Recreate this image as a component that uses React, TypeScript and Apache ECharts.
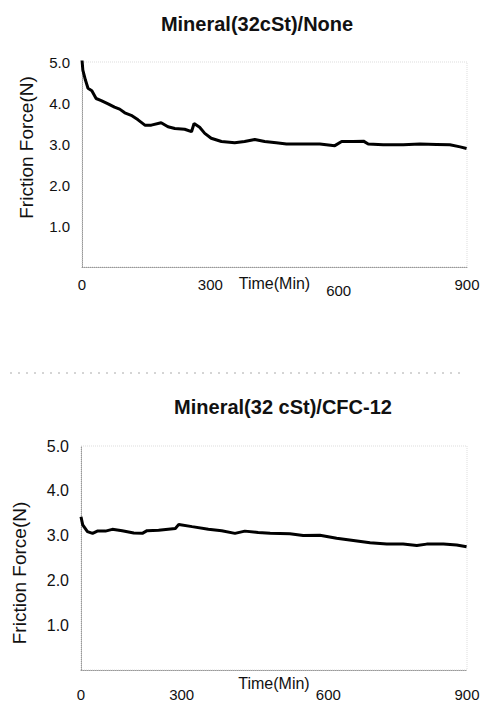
import React, { useEffect, useRef } from "react";
import * as echarts from "echarts";

const title1 = "Mineral(32cSt)/None";
const title2 = "Mineral(32 cSt)/CFC-12";
const yAxisName = "Friction Force(N)";
const xAxisName = "Time(Min)";
const xTicks = [0, 300, 600, 900];
const yTicks = [1, 2, 3, 4, 5];

const time1 = [0, 2, 8, 14, 23, 33, 45, 61, 76, 88, 100, 115, 131, 147, 162, 185, 201, 217, 240, 256, 262, 275, 287, 302, 326, 357, 380, 404, 427, 454, 478, 517, 556, 591, 607, 634, 658, 669, 704, 751, 790, 829, 860, 884, 899];
const force1 = [5.05, 4.8, 4.56, 4.36, 4.3, 4.11, 4.06, 3.98, 3.9, 3.85, 3.76, 3.7, 3.59, 3.46, 3.46, 3.52, 3.42, 3.38, 3.36, 3.3, 3.5, 3.41, 3.26, 3.14, 3.06, 3.03, 3.06, 3.11, 3.06, 3.03, 3.0, 3.0, 3.0, 2.96, 3.06, 3.06, 3.07, 3.0, 2.98, 2.98, 3.0, 2.99, 2.98, 2.93, 2.89];

const time2 = [0, 4, 15, 27, 38, 57, 73, 96, 123, 143, 154, 181, 220, 228, 259, 297, 328, 359, 382, 413, 441, 487, 518, 557, 596, 635, 674, 713, 751, 783, 806, 845, 876, 899];
const force2 = [3.42, 3.24, 3.09, 3.05, 3.1, 3.1, 3.14, 3.11, 3.06, 3.05, 3.11, 3.12, 3.16, 3.25, 3.2, 3.14, 3.11, 3.05, 3.1, 3.07, 3.05, 3.04, 3.0, 3.01, 2.94, 2.89, 2.84, 2.81, 2.81, 2.78, 2.81, 2.81, 2.79, 2.75];

const FONT = "'Liberation Sans', Arial, sans-serif";

export default function App() {
  const ref = useRef<HTMLDivElement>(null);
  useEffect(() => {
    if (!ref.current) return;
    const chart = echarts.init(ref.current, undefined, { renderer: "svg" });
    const yAxisBase = (gridIndex: number, gap: number, fs: number, pad: number[]) => ({
      type: "value",
      gridIndex,
      min: 0,
      max: 5,
      interval: 1,
      name: yAxisName,
      nameLocation: "middle",
      nameGap: gap,
      nameMoveOverlap: false,
      nameTextStyle: { fontFamily: FONT, fontSize: 19, color: "#111", padding: pad },
      axisLine: { show: true, lineStyle: { color: "#999", type: "dotted", width: 1 } },
      axisTick: { show: false },
      splitLine: { show: false },
      axisLabel: {
        margin: 12,
        fontFamily: FONT,
        fontSize: fs,
        color: "#111",
        formatter: (v: number) => (yTicks.includes(v) ? v.toFixed(1) : ""),
      },
    });
    const xAxisBase = (gridIndex: number, gap: number, margin: number, rich: any, fmt: (v: number) => string) => ({
      type: "value",
      gridIndex,
      min: 0,
      max: 900,
      interval: 300,
      name: xAxisName,
      nameLocation: "middle",
      nameGap: gap,
      nameMoveOverlap: false,
      nameTextStyle: { fontFamily: FONT, fontSize: 16, color: "#111" },
      axisLine: { show: true, lineStyle: { color: "#999", type: "dotted", width: 1 } },
      axisTick: { show: false },
      splitLine: { show: false },
      axisLabel: {
        margin,
        fontFamily: FONT,
        fontSize: 15,
        color: "#111",
        formatter: fmt,
        rich,
      },
    });
    const labelRich = (fs: number) => ({
      n: { fontFamily: FONT, fontSize: fs, color: "#111" },
      a: { fontFamily: FONT, fontSize: fs, color: "#111", padding: [0, 56, 0, 0] },
      b: { fontFamily: FONT, fontSize: fs, color: "#111", padding: [0, 20, 0, 0] },
      d: { fontFamily: FONT, fontSize: fs, color: "#111", padding: [6, 0, 0, 0] },
    });
    chart.setOption({
      animation: false,
      backgroundColor: "#fff",
      title: [
        {
          text: title1,
          left: 252,
          top: 9,
          textAlign: "center",
          textStyle: { fontFamily: FONT, fontSize: 20, fontWeight: "bold", color: "#111" },
        },
        {
          text: title2,
          left: 278,
          top: 392,
          textAlign: "center",
          textStyle: { fontFamily: FONT, fontSize: 20, fontWeight: "bold", color: "#111" },
        },
      ],
      grid: [
        { left: 82, right: 18, top: 62, bottom: 437, show: true, borderColor: "#ddd", borderWidth: 1, borderType: "dotted" } as any,
        { left: 81, right: 18, top: 446, bottom: 34, show: true, borderColor: "#ddd", borderWidth: 1, borderType: "dotted" } as any,
      ],
      xAxis: [
        xAxisBase(0, 8, 10, labelRich(15), (v: number) => (xTicks.includes(v) ? (v === 600 ? `{d|${v}}` : `{n|${v}}`) : "")),
        xAxisBase(1, 5, 17, labelRich(15), (v: number) =>
          xTicks.includes(v) ? (v === 300 ? `{a|${v}}` : v === 600 ? `{b|${v}}` : `{n|${v}}`) : ""
        ),
      ],
      yAxis: [yAxisBase(0, 46, 15, [0, 0, 0, 34]), yAxisBase(1, 52, 16, [0, 30, 0, 0])],
      series: [
        {
          type: "line",
          xAxisIndex: 0,
          yAxisIndex: 0,
          data: time1.map((t, i) => [t, force1[i]]),
          showSymbol: false,
          lineStyle: { color: "#000", width: 3 },
        },
        {
          type: "line",
          xAxisIndex: 1,
          yAxisIndex: 1,
          data: time2.map((t, i) => [t, force2[i]]),
          showSymbol: false,
          lineStyle: { color: "#000", width: 3 },
        },
      ],
      graphic: [
        {
          type: "line",
          shape: { x1: 10, y1: 373, x2: 462, y2: 373 },
          style: { stroke: "#aaa", lineWidth: 1, lineDash: [2, 6] },
        },
      ],
    });
    return () => chart.dispose();
  }, []);
  return <div ref={ref} style={{ position: "fixed", left: 0, top: 0, width: 485, height: 704 }} />;
}
